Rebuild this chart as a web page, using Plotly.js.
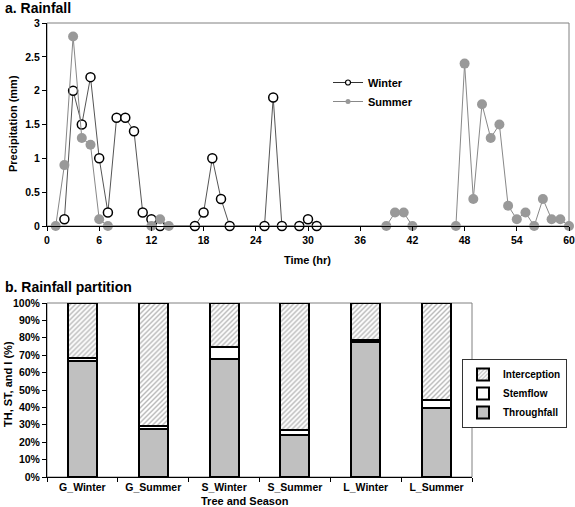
<!DOCTYPE html>
<html>
<head>
<meta charset="utf-8">
<script src="https://cdn.plot.ly/plotly-3.0.1.min.js"></script>
<style>html,body{margin:0;padding:0;background:#fff;}#chart{width:575px;height:507px;}</style>
</head>
<body>
<div id="chart"></div>
<script>
// ---- Panel a: rainfall time series ----
const winterHours = [2,3,4,5,6,7,8,9,10,11,12,13,17,18,19,20,21,25,26,27,29,30,31];
const winterRain  = [0.1,2.0,1.5,2.2,1.0,0.2,1.6,1.6,1.4,0.2,0.1,0,0,0.2,1.0,0.4,0,0,1.9,0,0,0.1,0];
const summerHours = [1,2,3,4,5,6,7,12,13,14,39,40,41,42,47,48,49,50,51,52,53,54,55,56,57,58,59,60];
const summerRain  = [0,0.9,2.8,1.3,1.2,0.1,0,0,0.1,0,0,0.2,0.2,0,0,2.4,0.4,1.8,1.3,1.5,0.3,0.1,0.2,0,0.4,0.1,0.1,0];
const timeTicks = [0,6,12,18,24,30,36,42,48,54,60];
const rainTicks = [0,0.5,1,1.5,2,2.5,3];

// ---- Panel b: rainfall partition ----
const categories   = ['G_Winter','G_Summer','S_Winter','S_Summer','L_Winter','L_Summer'];
const throughfall  = [66.5,27.5,68,24,77.5,39.5];
const stemflow     = [2,2,7,3,1.5,5];
const interception = [31.5,70.5,25,73,21,55.5];
const pctTicks = [0,10,20,30,40,50,60,70,80,90,100];

const W = 575, H = 507;
const px = v => v / W;
const py = v => (H - v) / H;
const FONT = 'Liberation Sans, Arial, sans-serif';
const bold = (size, color) => ({family: FONT, size: size, color: color || '#000', weight: 'bold'});

const barLine = {color: '#000', width: 2};

const traces = [
  {x: winterHours, y: winterRain, type: 'scatter', mode: 'lines+markers', name: 'Winter',
   xaxis: 'x', yaxis: 'y', showlegend: false, cliponaxis: false,
   line: {color: '#555555', width: 1},
   marker: {symbol: 'circle', size: 9, color: '#ffffff', line: {color: '#000', width: 1.5}}},
  {x: summerHours, y: summerRain, type: 'scatter', mode: 'lines+markers', name: 'Summer',
   xaxis: 'x', yaxis: 'y', showlegend: false, cliponaxis: false,
   line: {color: '#888888', width: 1},
   marker: {symbol: 'circle', size: 10, color: '#999999'}},
  // legend-only entries for panel a (small markers as in the original legend)
  {x: [null], y: [null], type: 'scatter', mode: 'lines+markers', name: 'Winter',
   xaxis: 'x', yaxis: 'y', legend: 'legend', legendgroup: 'w',
   line: {color: '#333333', width: 1},
   marker: {symbol: 'circle', size: 5, color: '#fff', line: {color: '#000', width: 1.2}}},
  {x: [null], y: [null], type: 'scatter', mode: 'lines+markers', name: 'Summer',
   xaxis: 'x', yaxis: 'y', legend: 'legend', legendgroup: 's',
   line: {color: '#888888', width: 1},
   marker: {symbol: 'circle', size: 5, color: '#999999'}},
  // panel b stacked bars
  {x: categories, y: throughfall, type: 'bar', name: 'Throughfall', xaxis: 'x2', yaxis: 'y2',
   legend: 'legend2', legendgroup: 'tf',
   marker: {color: '#c0c0c0', line: barLine}},
  {x: categories, y: stemflow, type: 'bar', name: 'Stemflow', xaxis: 'x2', yaxis: 'y2',
   legend: 'legend2', legendgroup: 'sf',
   marker: {color: '#ffffff', line: barLine}},
  {x: categories, y: interception, type: 'bar', name: 'Interception', xaxis: 'x2', yaxis: 'y2',
   legend: 'legend2', legendgroup: 'ic',
   marker: {color: '#ffffff', line: barLine,
            pattern: {shape: '/', fgcolor: '#b8b8b8', bgcolor: '#ffffff', size: 3.5, solidity: 0.4}}}
];

const layout = {
  width: W, height: H, autosize: false,
  margin: {l: 0, r: 0, t: 0, b: 0, pad: 0, autoexpand: false},
  paper_bgcolor: '#fff', plot_bgcolor: 'rgba(0,0,0,0)',
  font: bold(10.5),
  barmode: 'stack', bargap: 0.59,
  xaxis: {domain: [px(47), px(569)], anchor: 'y', range: [0, 60],
          tickmode: 'array', tickvals: timeTicks, ticktext: timeTicks.map(String),
          ticks: 'outside', ticklen: 4, tickcolor: '#000', tickwidth: 1,
          showline: true, linecolor: '#000', linewidth: 1, showgrid: false, zeroline: false,
          tickfont: bold(10.5), automargin: false},
  yaxis: {domain: [py(226), py(23)], anchor: 'x', range: [0, 3],
          tickmode: 'array', tickvals: rainTicks, ticktext: rainTicks.map(String),
          ticks: 'outside', ticklen: 4, tickcolor: '#000', tickwidth: 1,
          showline: true, linecolor: '#000', linewidth: 1, showgrid: false, zeroline: false,
          tickfont: bold(10.5), automargin: false},
  xaxis2: {domain: [px(47), px(472)], anchor: 'y2', type: 'category',
           tickson: 'boundaries', ticks: 'outside', ticklen: 4, tickcolor: '#000',
           showline: true, linecolor: '#000', linewidth: 1, showgrid: false,
           tickfont: bold(10.5), automargin: false},
  yaxis2: {domain: [py(477), py(303)], anchor: 'x2', range: [0, 100],
           tickmode: 'array', tickvals: pctTicks, ticktext: pctTicks.map(v => v + '%'),
           ticks: 'outside', ticklen: 4, tickcolor: '#000',
           showline: true, linecolor: '#000', linewidth: 1, showgrid: false, zeroline: false,
           tickfont: bold(10.5), automargin: false},
  legend: {x: px(328), y: py(68), xanchor: 'left', yanchor: 'top',
           bgcolor: 'rgba(0,0,0,0)', borderwidth: 0, font: bold(11),
           traceorder: 'normal', tracegroupgap: 4, itemwidth: 30},
  legend2: {x: px(462), y: py(359), xanchor: 'left', yanchor: 'top',
            bgcolor: '#fff', bordercolor: '#333', borderwidth: 1, font: bold(10),
            traceorder: 'reversed', tracegroupgap: 6, itemwidth: 30},
  shapes: [
    {type: 'rect', xref: 'x domain', yref: 'y domain', x0: 0, x1: 1, y0: 0, y1: 1,
     line: {color: '#808080', width: 1}, layer: 'below'},
    {type: 'rect', xref: 'x2 domain', yref: 'y2 domain', x0: 0, x1: 1, y0: 0, y1: 1,
     line: {color: '#808080', width: 1}, layer: 'below'}
  ],
  annotations: [
    {text: 'a. Rainfall', xref: 'paper', yref: 'paper', x: px(3), y: py(8),
     xanchor: 'left', yanchor: 'middle', showarrow: false, font: bold(14)},
    {text: 'b. Rainfall partition', xref: 'paper', yref: 'paper', x: px(3), y: py(287),
     xanchor: 'left', yanchor: 'middle', showarrow: false, font: bold(14)},
    {text: 'Time (hr)', xref: 'paper', yref: 'paper', x: px(308), y: py(260),
     xanchor: 'center', yanchor: 'middle', showarrow: false, font: bold(11)},
    {text: 'Precipitation (mm)', xref: 'paper', yref: 'paper', x: px(13), y: py(124),
     xanchor: 'center', yanchor: 'middle', showarrow: false, textangle: -90, font: bold(11)},
    {text: 'Tree and Season', xref: 'paper', yref: 'paper', x: px(245), y: py(501),
     xanchor: 'center', yanchor: 'middle', showarrow: false, font: bold(11)},
    {text: 'TH, ST, and I (%)', xref: 'paper', yref: 'paper', x: px(8), y: py(384),
     xanchor: 'center', yanchor: 'middle', showarrow: false, textangle: -90, font: bold(11)}
  ]
};

Plotly.newPlot('chart', traces, layout, {displayModeBar: false, staticPlot: true});
</script>
</body>
</html>
